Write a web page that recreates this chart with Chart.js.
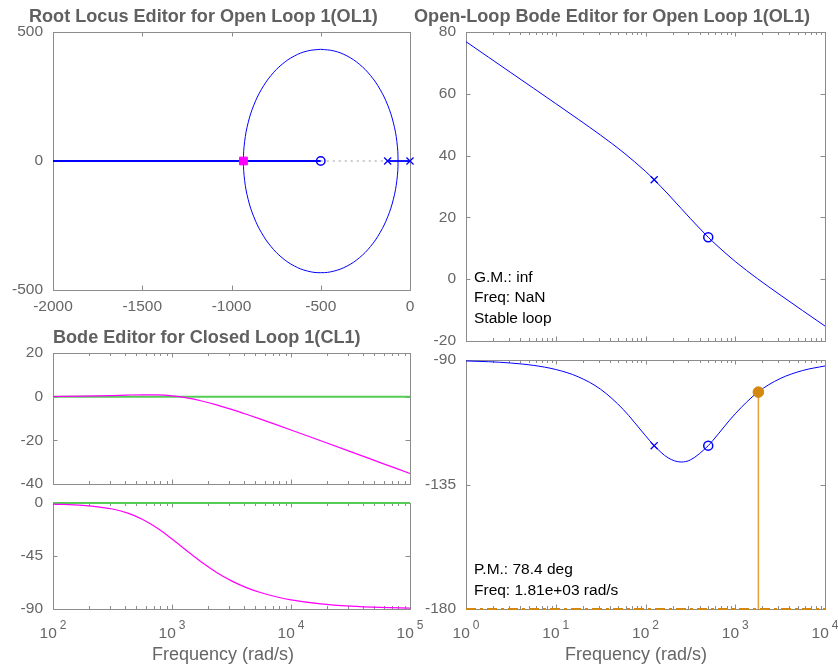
<!DOCTYPE html>
<html lang="en">
<head>
<meta charset="utf-8">
<title>Control System Designer</title>
<script src="https://cdn.jsdelivr.net/npm/chart.js@4.4.1/dist/chart.umd.min.js"></script>
<style>
  html, body { margin: 0; padding: 0; background: #ffffff; }
  #figure { position: relative; width: 838px; height: 668px; overflow: hidden; }
  #figure canvas { position: absolute; left: 0; top: 0; }
</style>
</head>
<body>
<div id="figure">
  <canvas id="rootLocus" width="838" height="668"></canvas>
  <canvas id="olMag" width="838" height="668"></canvas>
  <canvas id="olPhase" width="838" height="668"></canvas>
  <canvas id="clMag" width="838" height="668"></canvas>
  <canvas id="clPhase" width="838" height="668"></canvas>
</div>
<script>
// ---- Root locus of L(s) = K (s+500) / (s (s+125)) ----
const locusRe = [-500, -424.8, -351.9, -283.5, -221.7, -168.3, -125, -93.1, -73.6, -67, -73.6, -93.1, -125, -168.3, -221.7, -283.5, -351.9, -424.8, -500, -575.2, -648.1, -716.5, -778.3, -831.7, -875, -906.9, -926.4, -933, -926.4, -906.9, -875, -831.7, -778.3, -716.5, -648.1, -575.2, -500];
const locusIm = [433, 426.4, 406.9, 375, 331.7, 278.3, 216.5, 148.1, 75.2, 0, -75.2, -148.1, -216.5, -278.3, -331.7, -375, -406.9, -426.4, -433, -426.4, -406.9, -375, -331.7, -278.3, -216.5, -148.1, -75.2, 0, 75.2, 148.1, 216.5, 278.3, 331.7, 375, 406.9, 426.4, 433];
const branchFarRe = [-2000, -500];
const branchNearRe = [-125, 0];
const realGapRe = [-500, -125];
const olPoleRe = [-125, 0];
const olZeroRe = [-500];
const clPoleRe = [-933];

// ---- Open-loop Bode ----
const olFreq = [1, 1.778, 3.162, 5.623, 10, 17.78, 31.62, 56.23, 100, 125, 177.8, 250, 316.2, 500, 562.3, 1000, 1778, 3162, 5623, 10000];
const olMagDb = [76.86, 71.86, 66.85, 61.85, 56.83, 51.78, 46.61, 41.11, 34.88, 32.17, 27.57, 22.88, 19.63, 13.58, 12.14, 5.72, 0.13, -5.08, -10.15, -15.17];
const olPhaseDeg = [-90.34, -90.61, -91.09, -91.93, -93.43, -96.06, -100.58, -107.81, -117.35, -120.96, -125.32, -126.87, -126.12, -120.96, -119.11, -109.44, -101.68, -96.72, -93.81, -92.15];
const olPoleFreq = [125];
const olPoleMagDb = [32.17];
const olPolePhaseDeg = [-120.96];
const olZeroFreq = [500];
const olZeroMagDb = [13.58];
const olZeroPhaseDeg = [-120.96];
const pmFreq = 1810;
const pmDeg = 78.4;
const phaseFloorFreq = [1, 10000];
const phaseFloorDeg = [-180, -180];

// ---- Closed-loop Bode ----
const clFreq = [100, 177.8, 316.2, 420, 562.3, 750, 1000, 1330, 1778, 2371, 3162, 4217, 5623, 7499, 10000, 17783, 31623, 56234, 100000];
const clMagDb = [0.07, 0.21, 0.52, 0.72, 0.86, 0.79, 0.35, -0.57, -1.97, -3.74, -5.80, -8.04, -10.39, -12.80, -15.25, -20.21, -25.19, -30.19, -35.19];
const clPhaseDeg = [-0.93, -2.01, -5.12, -8.44, -13.80, -21.28, -30.54, -40.50, -50.34, -58.95, -66.11, -71.81, -76.24, -79.63, -82.20, -85.61, -87.53, -88.61, -89.22];
const clRefFreq = [100, 100000];
const clRefDb = [0, 0];
const clRefDeg = [0, 0];

// ---- Axis tick values ----
const rlXTicks = { min: -2000, max: 0, step: 500 };
const rlYTicks = { min: -500, max: 500, step: 500 };
const olMagTicks = { min: -20, max: 80, step: 20 };
const olPhaseTicks = { min: -180, max: -90, step: 45 };
const clMagTicks = { min: -40, max: 20, step: 20 };
const clPhaseTicks = { min: -90, max: 0, step: 45 };
const olFreqRange = { min: 1, max: 10000 };
const clFreqRange = { min: 100, max: 100000 };

// ---- Styling ----
const FAM = '"Liberation Sans", Arial, Helvetica, sans-serif';
const BLUE = '#0000ff';
const MAGENTA = '#ff00ff';
const GREEN = '#55cc55';
const ORANGE = '#e6a23c';
const ORANGE_DARK = '#d4880f';
const AXIS_GRAY = '#8c8c8c';
const LABEL_GRAY = '#666666';
const TITLE_GRAY = '#606060';
const W = 838, H = 668;
const YW = 48, XH = 40;

Chart.defaults.font.family = FAM;
Chart.defaults.font.size = 15.5;
Chart.defaults.color = LABEL_GRAY;
Chart.defaults.animation = false;

const xy = (xs, ys) => xs.map((v, i) => ({ x: v, y: ys[i] }));
const onRealAxis = xs => xs.map(v => ({ x: v, y: 0 }));
const isDecade = v => Math.abs(Math.log10(v) - Math.round(Math.log10(v))) < 1e-9;

function logTicks(min, max) {
  const out = [];
  for (let e = Math.round(Math.log10(min)); Math.pow(10, e) <= max * 1.0001; e++) {
    for (let m = 1; m <= 9; m++) {
      const v = m * Math.pow(10, e);
      if (v <= max * 1.0001) out.push({ value: v });
    }
  }
  return out;
}

// Box frame with inward ticks on all four sides (under the data),
// then titles, exponent tick labels and text readouts (over the data)
const boxAxes = {
  id: 'boxAxes',
  beforeDatasetsDraw(chart, args, o) {
    const { ctx, chartArea: a } = chart;
    const xs = chart.scales.x, ys = chart.scales.y;
    ctx.save();
    ctx.lineWidth = 1;
    ctx.strokeStyle = AXIS_GRAY;
    ctx.beginPath();
    for (const t of xs.ticks) {
      const px = Math.round(xs.getPixelForValue(t.value)) + 0.5;
      const len = (o.logX && !isDecade(t.value)) ? 3 : 4.5;
      ctx.moveTo(px, a.bottom); ctx.lineTo(px, a.bottom - len);
      ctx.moveTo(px, a.top); ctx.lineTo(px, a.top + len);
    }
    for (const t of ys.ticks) {
      const py = Math.round(ys.getPixelForValue(t.value)) + 0.5;
      ctx.moveTo(a.left, py); ctx.lineTo(a.left + 4.5, py);
      ctx.moveTo(a.right, py); ctx.lineTo(a.right - 4.5, py);
    }
    ctx.stroke();
    ctx.strokeRect(a.left + 0.5, a.top + 0.5, a.right - a.left, a.bottom - a.top);
    ctx.restore();
  },
  afterDraw(chart, args, o) {
    const { ctx, chartArea: a } = chart;
    const xs = chart.scales.x;
    ctx.save();
    ctx.textAlign = 'left';
    if (o.logX && o.xLabels) {
      ctx.fillStyle = LABEL_GRAY;
      ctx.textBaseline = 'alphabetic';
      for (const t of xs.ticks) {
        if (!isDecade(t.value)) continue;
        const e = String(Math.round(Math.log10(t.value)));
        ctx.font = '15.5px ' + FAM;
        const w1 = ctx.measureText('10').width;
        ctx.font = '12px ' + FAM;
        const w2 = ctx.measureText(e).width;
        const gap = 3;
        const x0 = xs.getPixelForValue(t.value) - (w1 + gap + w2) / 2;
        ctx.font = '15.5px ' + FAM;
        ctx.fillText('10', x0, a.bottom + 28.5);
        ctx.font = '12px ' + FAM;
        ctx.fillText(e, x0 + w1 + gap, a.bottom + 20);
      }
    }
    if (o.xTitle) {
      ctx.font = '18px ' + FAM;
      ctx.fillStyle = LABEL_GRAY;
      ctx.textAlign = 'center';
      ctx.textBaseline = 'middle';
      ctx.fillText(o.xTitle.text, o.xTitle.x, o.xTitle.y);
    }
    if (o.title) {
      ctx.font = 'bold 18.1px ' + FAM;
      ctx.fillStyle = TITLE_GRAY;
      ctx.textAlign = 'left';
      ctx.textBaseline = 'middle';
      ctx.fillText(o.title.text, o.title.x, o.title.y);
    }
    if (o.notes) {
      ctx.font = '15.5px ' + FAM;
      ctx.fillStyle = '#000000';
      ctx.textAlign = 'left';
      ctx.textBaseline = 'middle';
      o.notes.lines.forEach((s, i) => {
        ctx.fillText(s, a.left + o.notes.dx, a.bottom - o.notes.up + i * o.notes.step);
      });
    }
    ctx.restore();
  }
};

function zeroPad(s) { s.paddingLeft = 0; s.paddingRight = 0; s.paddingTop = 0; s.paddingBottom = 0; }

function linearAxis(t, showLabels, isX) {
  return {
    type: 'linear', min: t.min, max: t.max,
    grid: { display: false, drawTicks: false }, border: { display: false },
    ticks: { stepSize: t.step, display: showLabels, padding: isX ? 7 : 10, autoSkip: false, maxRotation: 0,
             callback: v => String(v) },
    afterFit: s => { if (isX) s.height = XH; else s.width = YW; zeroPad(s); }
  };
}

function logAxis(r) {
  return {
    type: 'logarithmic', min: r.min, max: r.max,
    grid: { display: false, drawTicks: false }, border: { display: false },
    ticks: { display: false },
    afterBuildTicks: s => { s.ticks = logTicks(r.min, r.max); },
    afterFit: s => { s.height = XH; zeroPad(s); }
  };
}

function makeChart(id, box, x, y, datasets, deco) {
  return new Chart(document.getElementById(id), {
    type: 'line',
    data: { datasets },
    options: {
      responsive: false,
      animation: false,
      events: [],
      layout: { padding: { left: box.l - YW, top: box.t, right: W - box.r, bottom: H - box.b - XH } },
      plugins: { legend: { display: false }, tooltip: { enabled: false }, boxAxes: deco },
      scales: { x, y },
      elements: { point: { radius: 0 }, line: { borderWidth: 1 } }
    },
    plugins: [boxAxes]
  });
}

const curve = (data, color, width, extra) => Object.assign({
  data, borderColor: color, borderWidth: width, pointRadius: 0, fill: false,
  cubicInterpolationMode: 'monotone', clip: 2
}, extra || {});
const marks = (data, style, radius, stroke, fillColor, bw) => ({
  data, showLine: false, pointStyle: style, pointRadius: radius,
  pointBorderColor: stroke, pointBackgroundColor: fillColor, pointBorderWidth: bw, clip: false
});

// Root locus editor
makeChart('rootLocus', { l: 53, t: 32, r: 410, b: 290 },
  linearAxis(rlXTicks, true, true), linearAxis(rlYTicks, true, false),
  [
    marks(onRealAxis(clPoleRe), 'rect', 5.5, MAGENTA, MAGENTA, 1),
    marks(onRealAxis(olPoleRe), 'crossRot', 5, BLUE, BLUE, 1.3),
    marks(onRealAxis(olZeroRe), 'circle', 4.2, BLUE, 'rgba(0,0,0,0)', 1.5),
    curve(xy(locusRe, locusIm), BLUE, 1, { cubicInterpolationMode: 'default', tension: 0.4, clip: false }),
    curve(onRealAxis(branchFarRe), BLUE, 1.8, { cubicInterpolationMode: 'default', tension: 0 }),
    curve(onRealAxis(branchNearRe), BLUE, 1.8, { cubicInterpolationMode: 'default', tension: 0, clip: false }),
    curve(onRealAxis(realGapRe), '#9a9a9a', 1.2, { cubicInterpolationMode: 'default', tension: 0, borderDash: [2, 4] })
  ],
  { title: { text: 'Root Locus Editor for Open Loop 1(OL1)', x: 29, y: 17 } });

// Open-loop magnitude
makeChart('olMag', { l: 466, t: 32, r: 825, b: 341 },
  logAxis(olFreqRange), linearAxis(olMagTicks, true, false),
  [
    marks(xy(olPoleFreq, olPoleMagDb), 'crossRot', 5, BLUE, BLUE, 1.3),
    marks(xy(olZeroFreq, olZeroMagDb), 'circle', 4.5, BLUE, 'rgba(0,0,0,0)', 1.5),
    curve(xy(olFreq, olMagDb), BLUE, 1)
  ],
  { logX: true, xLabels: false,
    title: { text: 'Open-Loop Bode Editor for Open Loop 1(OL1)', x: 414, y: 17 },
    notes: { lines: ['G.M.: inf', 'Freq: NaN', 'Stable loop'], dx: 8, up: 63.5, step: 20.7 } });

// Open-loop phase with phase-margin readout
makeChart('olPhase', { l: 466, t: 360, r: 825, b: 609 },
  logAxis(olFreqRange), linearAxis(olPhaseTicks, true, false),
  [
    marks([{ x: pmFreq, y: -180 + pmDeg }], 'circle', 5.3, ORANGE_DARK, ORANGE_DARK, 1),
    marks(xy(olPoleFreq, olPolePhaseDeg), 'crossRot', 5, BLUE, BLUE, 1.3),
    marks(xy(olZeroFreq, olZeroPhaseDeg), 'circle', 4.5, BLUE, 'rgba(0,0,0,0)', 1.5),
    curve(xy(olFreq, olPhaseDeg), BLUE, 1),
    curve([{ x: pmFreq, y: -180 }, { x: pmFreq, y: -180 + pmDeg }], ORANGE, 1.5, { cubicInterpolationMode: 'default', tension: 0 }),
    curve(xy(phaseFloorFreq, phaseFloorDeg), ORANGE_DARK, 2.2, { cubicInterpolationMode: 'default', tension: 0, borderDash: [10, 4, 3, 4], clip: false })
  ],
  { logX: true, xLabels: true,
    xTitle: { text: 'Frequency (rad/s)', x: 636, y: 655 },
    notes: { lines: ['P.M.: 78.4 deg', 'Freq: 1.81e+03 rad/s'], dx: 8, up: 39, step: 20.7 } });

// Closed-loop magnitude
makeChart('clMag', { l: 53, t: 353, r: 410, b: 484 },
  logAxis(clFreqRange), linearAxis(clMagTicks, true, false),
  [
    curve(xy(clFreq, clMagDb), MAGENTA, 1.2),
    curve(xy(clRefFreq, clRefDb), GREEN, 2, { cubicInterpolationMode: 'default', tension: 0 })
  ],
  { logX: true, xLabels: false,
    title: { text: 'Bode Editor for Closed Loop 1(CL1)', x: 53, y: 338 } });

// Closed-loop phase
makeChart('clPhase', { l: 53, t: 503, r: 410, b: 609 },
  logAxis(clFreqRange), linearAxis(clPhaseTicks, true, false),
  [
    curve(xy(clFreq, clPhaseDeg), MAGENTA, 1.2),
    curve(xy(clRefFreq, clRefDeg), GREEN, 2, { cubicInterpolationMode: 'default', tension: 0, clip: false })
  ],
  { logX: true, xLabels: true,
    xTitle: { text: 'Frequency (rad/s)', x: 223, y: 655 } });
</script>
</body>
</html>
